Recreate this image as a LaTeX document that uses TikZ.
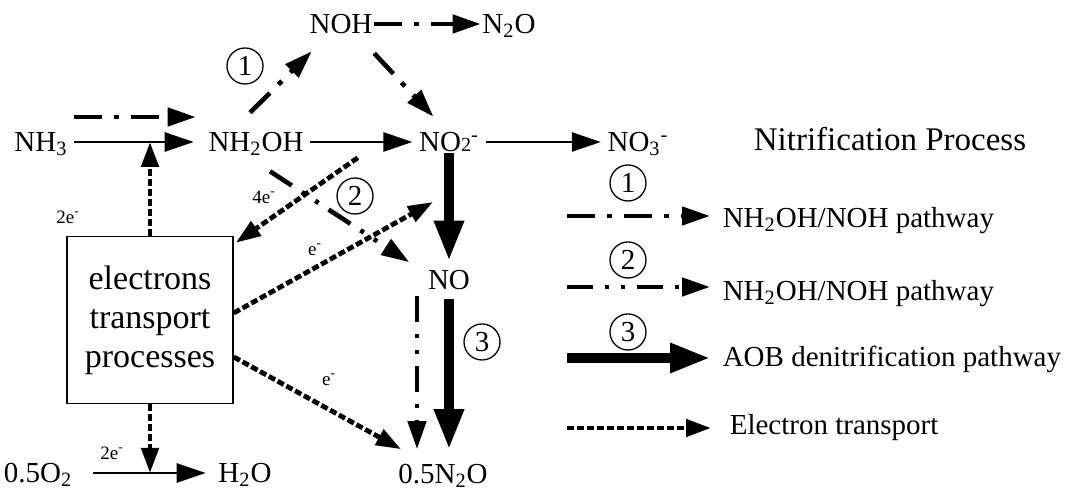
\documentclass[tikz,border=0pt]{standalone}
\usepackage{fontspec}
\setmainfont{Liberation Serif}
\usetikzlibrary{positioning,calc,arrows.meta}

\begin{document}
\begin{tikzpicture}[x=0.5pt, y=-0.5pt, auto, thick]
  \tikzstyle{chem} = [inner sep=3pt, text height=11pt, text depth=1.5pt, font=\fontsize{14.5}{17}\selectfont]
  \tikzstyle{etpbox} = [rectangle, draw, minimum width=83pt, minimum height=83.5pt, align=center, font=\fontsize{17}{19.5}\selectfont]
  \tikzstyle{numcirc} = [circle, draw, line width=0.65pt, minimum size=18pt, inner sep=0pt, font=\fontsize{14.5}{17}\selectfont]
  \tikzstyle{elab} = [inner sep=1pt, font=\fontsize{9.5}{10}\selectfont]
  \tikzstyle{plain} = [draw, line width=1.35pt, -{Triangle[length=14.5pt,width=9.5pt]}]
  \tikzstyle{pathone} = [draw, line width=2.3pt, dash pattern=on 14pt off 6pt on 2.5pt off 6pt, -{Triangle[length=14pt,width=9pt]}]
  \tikzstyle{pathtwo} = [draw, line width=2.3pt, dash pattern=on 13pt off 6pt on 2pt off 6pt on 2pt off 6pt, -{Triangle[length=14pt,width=9pt]}]
  \tikzstyle{aob} = [draw, line width=4.6pt, -{Triangle[length=20pt,width=14pt]}]
  \tikzstyle{etrans} = [draw, line width=2.4pt, dash pattern=on 3.5pt off 1.5pt, -{Triangle[length=12.5pt,width=8.5pt]}]

  \useasboundingbox (0,0) rectangle (1073,490);

  % main species
  \node [chem] (nh3) at (41,142) {NH\textsubscript{3}};
  \node [chem, right of=nh3, node distance=107.5pt] (nh2oh) {NH\textsubscript{2}OH};
  \node [chem, right of=nh2oh, node distance=96.5pt] (no2) {NO{\fontsize{10}{10}\selectfont 2}\textsuperscript{-}};
  \node [chem, right of=no2, node distance=94.5pt] (no3) {NO\textsubscript{3}\textsuperscript{-}};
  \node [chem] (noh) at (341,24) {NOH};
  \node [chem, right of=noh, node distance=84pt] (n2otop) {N\textsubscript{2}O};
  \node [chem] (no) at (449,280) {NO};
  \node [chem] (hn2o) at (443,474) {0.5N\textsubscript{2}O};
  \node [chem] (o2) at (38,473) {0.5O\textsubscript{2}};
  \node [chem] (h2o) at (245,473) {H\textsubscript{2}O};
  \node [etpbox] (etp) at (150,320) {electrons\\transport\\processes};

  % electron labels and pathway numbers
  \node [elab] (e1) at (68,217) {2e\textsuperscript{-}};
  \node [elab] (e2) at (264,197) {4e\textsuperscript{-}};
  \node [elab] (e3) at (315,250) {e\textsuperscript{-}};
  \node [elab] (e4) at (329,380) {e\textsuperscript{-}};
  \node [elab] (e5) at (112,453) {2e\textsuperscript{-}};
  \node [numcirc] (c1) at (245,66) {1};
  \node [numcirc] (c2) at (355,196) {2};
  \node [numcirc] (c3) at (482,342) {3};

  \path [plain, shorten >=4pt] (nh3) -- (nh2oh);
  \path [pathone] ($(nh3.east)+(0,-25)$) -- ($(nh2oh.west)+(-6,-25)$);
  \path [etrans] (etp.north) -- (etp.north |- nh3.east);
  \path [plain] (nh2oh) -- (no2);
  \path [plain] (no2) -- (no3);
  \path [pathone] ($(nh2oh.north)+(-6,-10)$) -- ($(noh.south west)+(9,8)$);
  \path [pathone, shorten <=-2.5pt, shorten >=-2.5pt] (noh) -- (n2otop);
  \path [pathone] ($(noh.south east)+(-5,10)$) -- ($(no2.north west)+(21,-6)$);
  \path [aob] ($(no2.south)+(0,-8)$) -- (no.north);
  \path [etrans] ($(nh2oh.south east)+(47.5,-3.5)$) -- ($(etp.north east)+(2,7)$);
  \path [pathtwo] ($(nh2oh.south)+(14,10)$) -- ($(no.north west)+(-12,1.5)$);
  \path [etrans] ($(etp.east)+(0,-7)$) -- ($(no2)!0.435!(no)+(-16,0)$);
  \path [etrans] ($(etp.east)+(0,37)$) -- ($(hn2o.north west)+(9.5,-5.5)$);
  \path [pathtwo] ($(no.south)+(-32,-3)$) -- ($(no.south |- hn2o.north)+(-32,-5.5)$);
  \path [aob] (no.south) -- ($(no.south |- hn2o.north)+(0,-5.5)$);
  \path [etrans] (etp.south) -- (etp.south |- o2.east);
  \path [plain, shorten <=7pt, shorten >=3pt] (o2) -- (h2o);

  % legend
  \node [font=\fontsize{16.5}{19}\selectfont] (title) at (890,139) {Nitrification Process};
  \node [numcirc] (k1c) at (628,183) {1};
  \node [numcirc] (k2c) at (628,260) {2};
  \node [numcirc] (k3c) at (628,332) {3};
  \node [chem, anchor=west] (k1t) at (716,218) {NH\textsubscript{2}OH/NOH pathway};
  \node [chem, anchor=west] (k2t) at (716,291) {NH\textsubscript{2}OH/NOH pathway};
  \node [chem, anchor=west] (k3t) at (716,357) {AOB denitrification pathway};
  \node [chem, anchor=west] (k4t) at (723,425) {Electron transport};
  \coordinate (k1) at (567,216);
  \coordinate (k2) at (567,287);
  \coordinate (k3) at (567,358);
  \coordinate (k4) at (567,428);
  \path [pathone, shorten >=3pt] (k1) -- (k1 -| k1t.west);
  \path [pathtwo, shorten >=3pt] (k2) -- (k2 -| k2t.west);
  \path [aob, shorten >=3pt] (k3) -- (k3 -| k3t.west);
  \path [etrans, shorten >=6pt] (k4) -- (k4 -| k4t.west);
\end{tikzpicture}
\end{document}
